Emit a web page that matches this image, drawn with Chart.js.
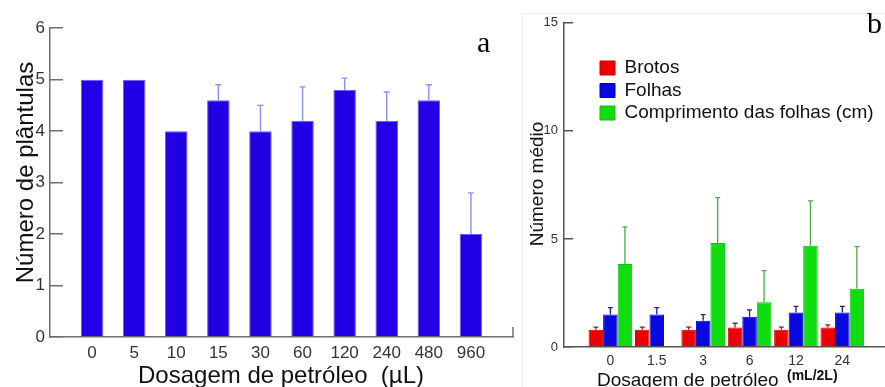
<!DOCTYPE html>
<html><head><meta charset="utf-8">
<script src="https://cdn.jsdelivr.net/npm/chart.js@4.4.1/dist/chart.umd.min.js"></script>
<style>
html,body{margin:0;padding:0;background:#fff;overflow:hidden;}
#wrap{position:relative;width:885px;height:387px;overflow:hidden;}
#ca{position:absolute;left:0;top:0;}
#cb{position:absolute;left:520px;top:0;}
#frame{position:absolute;left:522px;top:13px;width:400px;height:400px;border-left:1px solid #ececec;border-top:1px solid #ececec;}
</style></head><body>
<div id="wrap">
<div id="frame"></div>
<canvas id="ca" width="520" height="387"></canvas>
<canvas id="cb" width="365" height="387"></canvas>
</div>
<script>
// ---- Panel a data ----
const doseA = ['0','5','10','15','30','60','120','240','480','960'];
const plantulas = [5, 5, 4, 4.6, 4, 4.2, 4.8, 4.2, 4.6, 2];
const plantulasErr = [0, 0, 0, 0.3, 0.5, 0.66, 0.23, 0.56, 0.3, 0.8];
const titleXA = 'Dosagem de petróleo  (µL)';
const titleYA = 'Número de plântulas';

// ---- Panel b data ----
const doseB = ['0','1.5','3','6','12','24'];
const brotos = [0.8, 0.8, 0.8, 0.9, 0.8, 0.9];
const brotosErr = [0.12, 0.12, 0.12, 0.2, 0.12, 0.12];
const folhas = [1.5, 1.5, 1.22, 1.4, 1.6, 1.6];
const folhasErr = [0.32, 0.32, 0.28, 0.32, 0.28, 0.28];
const comprimento = [3.84, null, 4.81, 2.07, 4.69, 2.69];
const comprimentoErr = [1.72, null, 2.1, 1.46, 2.07, 1.95];
const seriesB = ['Brotos', 'Folhas', 'Comprimento das folhas (cm)'];
const titleXB = 'Dosagem de petróleo';
const unitXB = '(mL/2L)';
const titleYB = 'Número médio';

Chart.defaults.font.family = "'Liberation Sans', Arial, sans-serif";
Chart.defaults.color = '#333';

const decor = {
  id: 'decor',
  afterLayout(chart, args, opts) {
    if (opts.legendPos && chart.legend) {
      const lg = chart.legend;
      const w = lg.width, h = lg.height;
      lg.left = opts.legendPos.x; lg.top = opts.legendPos.y;
      lg.right = lg.left + w; lg.bottom = lg.top + h;
    }
  },
  afterDatasetsDraw(chart, args, opts) {
    const ctx = chart.ctx;
    const ys = chart.scales.y;
    chart.data.datasets.forEach((ds, di) => {
      if (!ds.errors) return;
      const meta = chart.getDatasetMeta(di);
      meta.data.forEach((el, i) => {
        const v = ds.data[i].y, e = ds.errors[i];
        if (v == null || !e) return;
        const top = ys.getPixelForValue(v + e);
        ctx.save();
        ctx.strokeStyle = ds.errorColor;
        ctx.lineWidth = opts.errWidth;
        ctx.beginPath();
        ctx.moveTo(el.x, el.y); ctx.lineTo(el.x, top);
        ctx.moveTo(el.x - opts.cap, top); ctx.lineTo(el.x + opts.cap, top);
        ctx.stroke();
        ctx.restore();
      });
    });
  },
  afterDraw(chart, args, opts) {
    const ctx = chart.ctx;
    const ca = chart.chartArea;
    if (opts.endTick) {
      ctx.save();
      ctx.strokeStyle = opts.endTick.color; ctx.lineWidth = 1.5;
      ctx.beginPath();
      ctx.moveTo(ca.right, ca.bottom); ctx.lineTo(ca.right, ca.bottom - opts.endTick.len);
      ctx.stroke(); ctx.restore();
    }
    (opts.texts || []).forEach(t => {
      ctx.save();
      ctx.font = t.font;
      ctx.fillStyle = t.color || '#111';
      ctx.textAlign = t.align || 'center';
      ctx.textBaseline = 'alphabetic';
      ctx.translate(t.x, t.y);
      if (t.rot) ctx.rotate(t.rot);
      ctx.fillText(t.text, 0, 0);
      ctx.restore();
    });
  }
};

// ---- Chart a ----
new Chart(document.getElementById('ca'), {
  type: 'bar',
  data: {
    datasets: [{
      label: titleYA,
      data: doseA.map((d, i) => ({ x: i, y: plantulas[i] })),
      errors: plantulasErr,
      errorColor: '#8c8cff',
      backgroundColor: '#2200e6',
      borderColor: '#6a5cf6',
      borderWidth: 1,
      barPercentage: 0.535,
      categoryPercentage: 1
    }]
  },
  options: {
    responsive: false, animation: false, devicePixelRatio: 1,
    layout: { padding: { top: 28, right: 7, left: 0, bottom: 0 } },
    plugins: {
      legend: { display: false }, tooltip: { enabled: false },
      decor: {
        errWidth: 1.4, cap: 3,
        endTick: { color: '#6e6e6e', len: 10 },
        texts: [
          { text: titleXA, x: 281, y: 383, font: "24px 'Liberation Sans'" },
          { text: titleYA, x: 33, y: 172.5, rot: -Math.PI / 2, font: "24px 'Liberation Sans'" },
          { text: 'a', x: 477, y: 52, align: 'left', color: '#000', font: "30px 'Liberation Serif'" }
        ]
      }
    },
    scales: {
      x: {
        type: 'linear', min: -1, max: 10, offset: false,
        afterBuildTicks: s => { s.ticks = doseA.map((_, i) => ({ value: i })); },
        afterFit: s => { s.height = 50; },
        grid: { display: false, drawTicks: false, offset: false },
        border: { display: true, color: '#6e6e6e', width: 1.5 },
        ticks: { callback: v => doseA[v], color: '#333', font: { size: 17 }, padding: 6, maxRotation: 0, autoSkip: false }
      },
      y: {
        min: 0, max: 6,
        afterFit: s => { s.width = 50; },
        ticks: { stepSize: 1, color: '#333', font: { size: 17 }, padding: 18 },
        grid: { drawOnChartArea: false, drawTicks: true, tickLength: -13, color: '#6e6e6e', lineWidth: 1.5 },
        border: { color: '#6e6e6e', width: 1.5 }
      }
    }
  },
  plugins: [decor]
});

// ---- Chart b ----
const valsB = [brotos, folhas, comprimento];
const errsB = [brotosErr, folhasErr, comprimentoErr];
const fillB = ['#ee0000', '#0808e0', '#10dd10'];
const edgeB = ['#c80000', '#0000b8', '#0cbf0c'];
const errColB = ['#a01818', '#1c1ca8', '#4aa84a'];

new Chart(document.getElementById('cb'), {
  type: 'bar',
  data: {
    datasets: seriesB.map((name, k) => ({
      label: name,
      data: doseB.map((d, i) => ({ x: i, y: valsB[k][i] })),
      errors: errsB[k],
      errorColor: errColB[k],
      backgroundColor: fillB[k],
      borderColor: edgeB[k],
      borderWidth: 1,
      barPercentage: 1,
      categoryPercentage: 0.94
    }))
  },
  options: {
    responsive: false, animation: false, devicePixelRatio: 1,
    layout: { padding: { top: 22, right: 0, left: 0, bottom: 0 } },
    plugins: {
      tooltip: { enabled: false },
      legend: {
        display: true, position: 'chartArea', align: 'start',
        labels: { boxWidth: 15, boxHeight: 14, padding: 3.5, color: '#111', font: { size: 19 } }
      },
      decor: {
        errWidth: 1.3, cap: 2.5,
        legendPos: { x: 76.5, y: 55 },
        texts: [
          { text: titleYB, x: 23, y: 184, rot: -Math.PI / 2, font: "19px 'Liberation Sans'" },
          { text: titleXB, x: 77, y: 386, align: 'left', font: "19px 'Liberation Sans'" },
          { text: unitXB, x: 267, y: 380, align: 'left', font: "bold 14px 'Liberation Sans'" },
          { text: 'b', x: 347, y: 33, align: 'left', color: '#000', font: "30px 'Liberation Serif'" }
        ]
      }
    },
    scales: {
      x: {
        type: 'linear', min: -1, max: 5.92, offset: false,
        afterBuildTicks: s => { s.ticks = doseB.map((_, i) => ({ value: i })); },
        afterFit: s => { s.height = 40; },
        grid: { display: false, drawTicks: false, offset: false },
        border: { display: true, color: '#555', width: 1.5 },
        ticks: { callback: v => doseB[v], color: '#333', font: { size: 14 }, padding: 6, maxRotation: 0, autoSkip: false }
      },
      y: {
        min: 0, max: 15,
        afterFit: s => { s.width = 44; },
        ticks: { stepSize: 5, color: '#333', font: { size: 13 }, padding: 15 },
        grid: { drawOnChartArea: false, drawTicks: true, tickLength: -9, color: '#555', lineWidth: 1.5 },
        border: { color: '#555', width: 1.5 }
      }
    }
  },
  plugins: [decor]
});
</script>
</body></html>
